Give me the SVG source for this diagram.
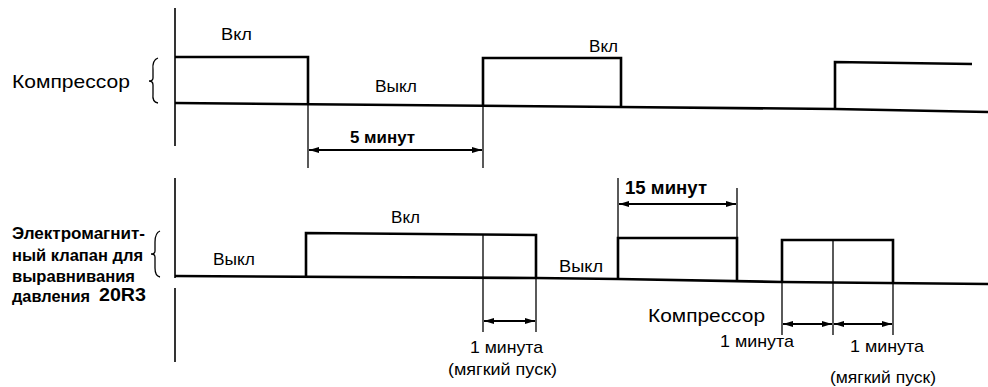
<svg xmlns="http://www.w3.org/2000/svg" width="988" height="387" viewBox="0 0 988 387">
<style>
.t{font-family:"Liberation Sans",Arial,sans-serif;fill:#000}
.b{font-weight:bold}
.w{fill:none;stroke:#000;stroke-width:2.6;stroke-linejoin:miter}
.a{fill:none;stroke:#000;stroke-width:1.6}
.e{fill:none;stroke:#000;stroke-width:1.3}
.d{fill:none;stroke:#000;stroke-width:2;marker-start:url(#ah);marker-end:url(#ah)}
.br{fill:none;stroke:#000;stroke-width:1.3}
</style>
<defs>
<marker id="ah" viewBox="0 0 10 6" refX="10" refY="3" markerWidth="10" markerHeight="6" orient="auto-start-reverse" markerUnits="userSpaceOnUse">
<path d="M0,0 L10,3 L0,6 z" fill="#000"/>
</marker>
</defs>
<rect width="988" height="387" fill="#fff"/>

<g id="compressor-signal">
<line class="a" x1="175" y1="8" x2="175" y2="146"/>
<polyline class="w" points="175,103 620,107 835,109 988,112"/>
<polyline class="w" points="175,57 308,57 308,103"/>
<polyline class="w" points="483,106 483,58 621,58 621,107"/>
<polyline class="w" points="835,109 835,62 972,64"/>
<path class="br" d="M158,58 Q152,60 153,70 L153,78 Q153,81 149,81 Q153,81 153,85 L153,94 Q152,102 158,103"/>
<text class="t" x="12" y="88" style="font-size:19px" textLength="118" lengthAdjust="spacingAndGlyphs">Компрессор</text>
<text class="t" x="221" y="40" style="font-size:17px" textLength="31" lengthAdjust="spacingAndGlyphs">Вкл</text>
<text class="t" x="375" y="92" style="font-size:17px" textLength="42" lengthAdjust="spacingAndGlyphs">Выкл</text>
<text class="t" x="589" y="52" style="font-size:17px" textLength="29" lengthAdjust="spacingAndGlyphs">Вкл</text>
</g>

<g id="valve-signal">
<line class="a" x1="175" y1="178" x2="175" y2="278"/>
<line class="a" x1="175" y1="288" x2="175" y2="362"/>
<polyline class="w" points="175,276 536,278 618,279 782,282 988,284"/>
<polyline class="w" points="306,277 306,233 536,235 536,278"/>
<polyline class="w" points="618,279 618,238 737,238 737,280"/>
<polyline class="w" points="782,282 782,240 893,240 893,283"/>
<path class="br" d="M160,231 Q155,233 155,242 L155,251 Q155,254 151,254 Q155,254 155,257 L155,268 Q155,276 160,277"/>
<text class="t b" x="12" y="239" style="font-size:16px" textLength="133" lengthAdjust="spacingAndGlyphs">Электромагнит-</text>
<text class="t b" x="12" y="261" style="font-size:16px" textLength="131" lengthAdjust="spacingAndGlyphs">ный клапан для</text>
<text class="t b" x="12" y="282" style="font-size:16px" textLength="123" lengthAdjust="spacingAndGlyphs">выравнивания</text>
<text class="t b" x="12" y="302" style="font-size:16px" textLength="78" lengthAdjust="spacingAndGlyphs">давления</text>
<text class="t b" x="99" y="301" style="font-size:18px" textLength="47" lengthAdjust="spacingAndGlyphs">20R3</text>
<text class="t" x="213" y="265" style="font-size:17px" textLength="42" lengthAdjust="spacingAndGlyphs">Выкл</text>
<text class="t" x="391" y="223" style="font-size:17px" textLength="29" lengthAdjust="spacingAndGlyphs">Вкл</text>
<text class="t" x="559" y="272" style="font-size:17px" textLength="44" lengthAdjust="spacingAndGlyphs">Выкл</text>
<text class="t" x="648" y="322" style="font-size:19px" textLength="117" lengthAdjust="spacingAndGlyphs">Компрессор</text>
</g>

<g id="connectors">
<line class="e" x1="308" y1="103" x2="308" y2="168"/>
<line class="e" x1="483" y1="106" x2="483" y2="168"/>
<line class="d" x1="309" y1="150" x2="482" y2="150"/>
<text class="t b" x="350" y="143" style="font-size:16px" textLength="65" lengthAdjust="spacingAndGlyphs">5 минут</text>

<line class="e" x1="618" y1="178" x2="618" y2="238"/>
<line class="e" x1="737" y1="188" x2="737" y2="238"/>
<line class="d" x1="619" y1="204" x2="736" y2="204"/>
<text class="t b" x="625" y="194" style="font-size:18px" textLength="82" lengthAdjust="spacingAndGlyphs">15 минут</text>

<line class="e" x1="483" y1="234" x2="483" y2="332"/>
<line class="e" x1="536" y1="278" x2="536" y2="332"/>
<line class="d" x1="484" y1="321" x2="535" y2="321"/>
<text class="t" x="470" y="353" style="font-size:17px" textLength="73" lengthAdjust="spacingAndGlyphs">1 минута</text>
<text class="t" x="448" y="375" style="font-size:17px" textLength="109" lengthAdjust="spacingAndGlyphs">(мягкий пуск)</text>

<line class="e" x1="782" y1="282" x2="782" y2="335"/>
<line class="e" x1="833" y1="240" x2="833" y2="335"/>
<line class="e" x1="893" y1="283" x2="893" y2="335"/>
<line class="d" x1="783" y1="324" x2="832" y2="324"/>
<line class="d" x1="834" y1="324" x2="892" y2="324"/>
<text class="t" x="720" y="347" style="font-size:17px" textLength="74" lengthAdjust="spacingAndGlyphs">1 минута</text>
<text class="t" x="850" y="352" style="font-size:17px" textLength="74" lengthAdjust="spacingAndGlyphs">1 минута</text>
<text class="t" x="830" y="383" style="font-size:17px" textLength="106" lengthAdjust="spacingAndGlyphs">(мягкий пуск)</text>
</g>
</svg>
